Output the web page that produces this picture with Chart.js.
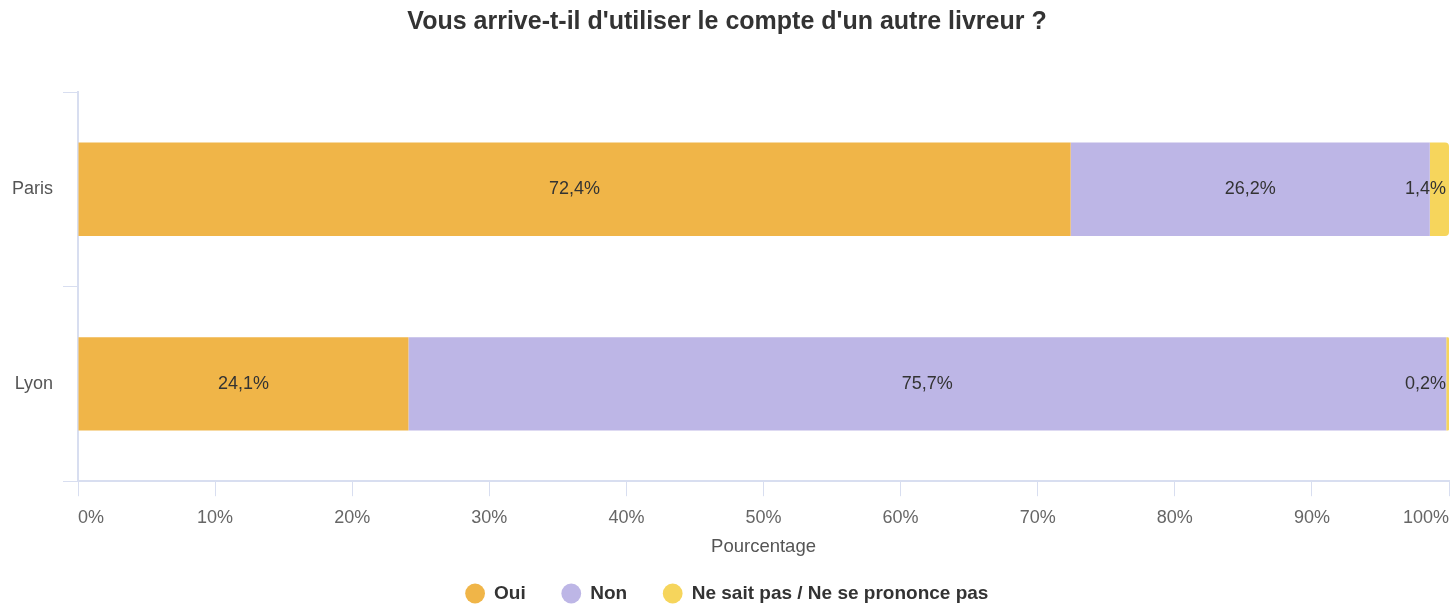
<!DOCTYPE html>
<html>
<head>
<meta charset="utf-8">
<script src="https://cdn.jsdelivr.net/npm/chart.js@4/dist/chart.umd.min.js"></script>
<style>
html,body{margin:0;padding:0;background:#fff;}
#wrap{width:1452px;height:609px;}
</style>
</head>
<body>
<div id="wrap"><canvas id="chart"></canvas></div>
<script>
const villes = ["Paris","Lyon"];
const oui = [72.4,24.1];
const non = [26.2,75.7];
const nsp = [1.4,0.2];
const seriesNames = ["Oui","Non","Ne sait pas / Ne se prononce pas"];
const xTicks = [0,10,20,30,40,50,60,70,80,90,100];

const gridColor = "#d8def0";
const fontFam = "'Liberation Sans', Arial, sans-serif";

// labels inside bars, kept inside the chart area on the right
const barLabels = {
id:"barLabels",
afterDatasetsDraw(chart){
const ctx = chart.ctx;
const right = chart.chartArea.right;
ctx.save();
ctx.font = "18px " + fontFam;
ctx.fillStyle = "#333";
ctx.textAlign = "center";
ctx.textBaseline = "middle";
chart.data.datasets.forEach((ds,i)=>{
const meta = chart.getDatasetMeta(i);
meta.data.forEach((bar,j)=>{
const txt = ds.data[j].toFixed(1).replace(".",",")+"%";
const w = ctx.measureText(txt).width;
let x = (bar.x+bar.base)/2;
if(x + w/2 > right-3) x = right-3-w/2;
ctx.fillText(txt,x,bar.y);
});
});
ctx.restore();
}
};

new Chart(document.getElementById("chart"),{
type:"bar",
data:{
labels:villes,
datasets:[
{label:seriesNames[0],data:oui,backgroundColor:"#f0b548"},
{label:seriesNames[1],data:non,backgroundColor:"#bdb6e6"},
{label:seriesNames[2],data:nsp,backgroundColor:"#f6d55c",
borderRadius:{topRight:4,bottomRight:4,topLeft:0,bottomLeft:0},borderSkipped:false}
]
},
options:{
indexAxis:"y",
responsive:true,
maintainAspectRatio:false,
animation:false,
layout:{padding:{left:2,right:0,top:0,bottom:-4}},
datasets:{bar:{barPercentage:0.8,categoryPercentage:0.6}},
plugins:{
title:{
display:true,
text:"Vous arrive-t-il d'utiliser le compte d'un autre livreur ?",
color:"#333",
font:{family:fontFam,size:25,weight:"bold"},
padding:{top:7,bottom:55}
},
legend:{
position:"bottom",
labels:{
usePointStyle:true,
pointStyle:"circle",
boxWidth:20,
boxHeight:14,
padding:36,
color:"#333",
font:{family:fontFam,size:19,weight:"bold"}
}
},
tooltip:{enabled:false}
},
scales:{
x:{
stacked:true,
min:0,
max:100,
afterBuildTicks(scale){
scale.ticks = xTicks.map(v=>({value:v}));
},
afterFit(scale){
scale.paddingRight = 3;
},
ticks:{
align:"inner",
color:"#666",
padding:11,
font:{family:fontFam,size:18},
callback:v=>v+"%"
},
grid:{drawOnChartArea:false,drawTicks:true,tickLength:15,color:gridColor},
border:{color:gridColor,width:2},
title:{
display:true,
text:"Pourcentage",
color:"#555",
font:{family:fontFam,size:18.5},
padding:{top:-4,bottom:-10}
}
},
y:{
stacked:true,
ticks:{
color:"#555",
padding:10,
font:{family:fontFam,size:18}
},
grid:{drawOnChartArea:false,drawTicks:true,tickLength:15,color:gridColor,offset:true},
border:{color:gridColor,width:2}
}
}
},
plugins:[barLabels]
});
</script>
</body>
</html>
